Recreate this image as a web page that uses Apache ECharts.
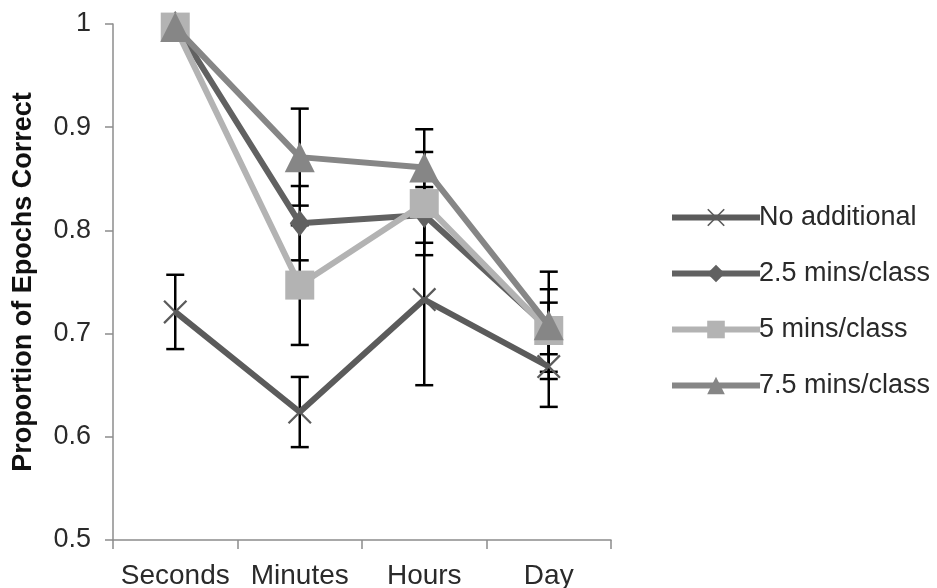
<!DOCTYPE html>
<html>
<head>
<meta charset="utf-8">
<script src="https://cdn.jsdelivr.net/npm/echarts@6/dist/echarts.min.js"></script>
<style>html,body{margin:0;padding:0;background:#fff;}#c{width:937px;height:588px;}</style>
</head>
<body>
<div id="c"></div>
<script>
const categories = ['Seconds', 'Minutes', 'Hours', 'Day'];
const seriesNames = ['No additional', '2.5 mins/class', '5 mins/class', '7.5 mins/class'];
const noAdditional = [0.721, 0.624, 0.733, 0.668];
const noAdditionalErr = [0.036, 0.034, 0.083, 0.039];
const mins25 = [1.0, 0.807, 0.815, 0.705];
const mins25Err = [0, 0.036, 0.027, 0.025];
const mins5 = [0.997, 0.747, 0.826, 0.703];
const mins5Err = [0, 0.058, 0.050, 0.040];
const mins75 = [0.997, 0.871, 0.861, 0.708];
const mins75Err = [0, 0.047, 0.037, 0.052];
const yTicks = [0.5, 0.6, 0.7, 0.8, 0.9, 1];

const FONT = 'Liberation Sans, Arial, sans-serif';
const xPath = 'path://M0,1.6 L1.6,0 L24,22.4 L22.4,24 Z M22.4,0 L24,1.6 L1.6,24 L0,22.4 Z';

const values = [noAdditional, mins25, mins5, mins75];
const errs = [noAdditionalErr, mins25Err, mins5Err, mins75Err];
const colors = ['#5b5b5b', '#616161', '#b3b3b3', '#868686'];
const symbols = [xPath, 'diamond', 'rect', 'triangle'];
const symbolSizes = [24, [20, 26], 29, [30, 30]];

const errData = [];
values.forEach((vals, s) => {
  vals.forEach((v, i) => {
    if (errs[s][i] > 0) errData.push([i, v - errs[s][i], v + errs[s][i]]);
  });
});

const lineSeries = values.map((vals, s) => ({
  name: seriesNames[s],
  type: 'line',
  data: vals,
  symbol: symbols[s],
  symbolSize: symbolSizes[s],
  showAllSymbol: true,
  z: 3 + s,
  lineStyle: { color: colors[s], width: 6 },
  itemStyle: { color: colors[s], opacity: 1 },
  emphasis: { disabled: true },
  animation: false
}));

const chart = echarts.init(document.getElementById('c'));
chart.setOption({
  animation: false,
  backgroundColor: '#fff',
  grid: { left: 113, right: 326, top: 24, bottom: 48, containLabel: false, outerBoundsMode: 'none' },
  xAxis: {
    type: 'category',
    data: categories,
    boundaryGap: true,
    axisLine: { lineStyle: { color: '#8c8c8c', width: 1.5 } },
    axisTick: { show: true, length: 9, interval: 0, lineStyle: { color: '#8c8c8c', width: 1.5 } },
    axisLabel: { color: '#2a2a2a', fontSize: 28, fontFamily: FONT, margin: 22, interval: 0 },
    splitLine: { show: false }
  },
  yAxis: {
    type: 'value',
    min: yTicks[0],
    max: yTicks[yTicks.length - 1],
    interval: 0.1,
    axisLine: { show: true, lineStyle: { color: '#8c8c8c', width: 1.5 } },
    axisTick: { show: true, length: 8, lineStyle: { color: '#8c8c8c', width: 1.5 } },
    axisLabel: { color: '#2a2a2a', fontSize: 27, fontFamily: FONT, margin: 22,
      formatter: v => String(Math.round(v * 10) / 10) },
    splitLine: { show: false },
    name: 'Proportion of Epochs Correct',
    nameLocation: 'middle',
    nameGap: 76,
    nameTextStyle: { color: '#111', fontSize: 27, fontWeight: 'bold', fontFamily: FONT }
  },
  legend: {
    data: seriesNames,
    orient: 'vertical',
    left: 664,
    top: 199,
    itemWidth: 88,
    itemHeight: 22,
    itemGap: 29,
    lineStyle: { width: 6 },
    textStyle: { color: '#2a2a2a', fontSize: 27, fontFamily: FONT, padding: [0, 0, 0, -6] },
    selectedMode: false
  },
  series: [
    {
      type: 'custom',
      name: 'errors',
      z: 2,
      data: errData,
      encode: { x: 0, y: [1, 2] },
      renderItem: function (params, api) {
        const x = api.value(0);
        const lo = api.coord([x, api.value(1)]);
        const hi = api.coord([x, api.value(2)]);
        const w = 9;
        const st = { stroke: '#000', lineWidth: 2.5 };
        return {
          type: 'group',
          children: [
            { type: 'line', shape: { x1: lo[0], y1: lo[1], x2: hi[0], y2: hi[1] }, style: st },
            { type: 'line', shape: { x1: hi[0] - w, y1: hi[1], x2: hi[0] + w, y2: hi[1] }, style: st },
            { type: 'line', shape: { x1: lo[0] - w, y1: lo[1], x2: lo[0] + w, y2: lo[1] }, style: st }
          ]
        };
      },
      silent: true,
      animation: false
    }
  ].concat(lineSeries)
});
</script>
</body>
</html>
